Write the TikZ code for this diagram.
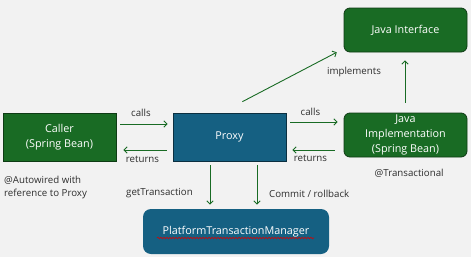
\documentclass[tikz,border=0pt]{standalone}
\usepackage{fontspec}
\setmainfont{Open Sans}
\usetikzlibrary{arrows.meta,decorations.pathmorphing}
\definecolor{bg}{HTML}{F2F2F2}
\definecolor{bgreen}{HTML}{196B24}
\definecolor{bgreenline}{HTML}{0E3B14}
\definecolor{bblue}{HTML}{156082}
\definecolor{bblueline}{HTML}{0B2F40}
\definecolor{lbl}{HTML}{2E2E2E}
\tikzset{
  greenbox/.style={draw=bgreenline, fill=bgreen, line width=0.8pt, text=white,
    font=\fontsize{10.8}{15}\selectfont, align=center, inner sep=0pt},
  bluebox/.style={draw=bblueline, fill=bblue, line width=0.8pt, text=white,
    font=\fontsize{10.8}{15}\selectfont, align=center, inner sep=0pt},
  link/.style={draw=bgreen, line width=0.9pt, -{Straight Barb[length=3.2pt,width=6.5pt]}},
  lab/.style={text=lbl, font=\fontsize{9.7}{13}\selectfont, inner sep=0pt},
}
\begin{document}
\begin{tikzpicture}[x=1pt,y=-1pt]
  \fill[bg] (0,0) rectangle (471,257);
  \useasboundingbox (0,0) rectangle (471,257);

  % boxes
  \node[greenbox, minimum width=113pt, minimum height=48pt] (caller) at (59.5,137) {Caller\\(Spring Bean)};
  \node[bluebox, minimum width=113pt, minimum height=48pt] (proxy) at (229.5,137) {Proxy};
  \node[greenbox, rounded corners=6pt, minimum width=123pt, minimum height=44pt] (iface) at (405.5,30) {Java Interface};
  \node[greenbox, rounded corners=6pt, minimum width=123pt, minimum height=44pt] (impl) at (405.5,135) {Java\\Implementation\\(Spring Bean)};
  \node[bluebox, draw=none, rounded corners=8pt, minimum width=186pt, minimum height=45pt] (ptm) at (236,231.5) {PlatformTransactionManager};
  \draw[red!85!black, line width=0.6pt, decorate, decoration={snake, amplitude=0.7pt, segment length=3pt}]
    ([xshift=-79pt,yshift=-6.5pt]ptm.center) -- ([xshift=78pt,yshift=-6.5pt]ptm.center);

  % caller <-> proxy
  \draw[link, shorten <=4pt, shorten >=5pt] ([yshift=13pt]caller.east) -- ([yshift=13pt]proxy.west);
  \draw[link, shorten <=6pt, shorten >=7pt] ([yshift=-13pt]proxy.west) -- ([yshift=-13pt]caller.east);
  \node[lab] (l1) at (141,112.5) {calls};
  \node[lab] (l2) at (142.5,159) {returns};

  % proxy <-> implementation
  \path ([yshift=15pt]proxy.east) coordinate (pc);
  \path ([yshift=-13pt]proxy.east) coordinate (pr);
  \draw[link, shorten <=4pt, shorten >=6pt] (pc) -- (pc -| impl.west);
  \draw[link, shorten <=9pt, shorten >=6pt] (pr -| impl.west) -- (pr);
  \node[lab] (l3) at (310.5,112) {calls};
  \node[lab] (l4) at (310.5,158.5) {returns};

  % implements
  \draw[link, shorten <=23.6pt, shorten >=7.7pt] ([xshift=-8pt]proxy.north) -- ([yshift=3.7pt]iface.south west);
  \node[lab] (l5) at (354,72) {implements};
  \draw[link, shorten <=10pt, shorten >=8pt] (impl.north -| 405,0) -- (iface.south -| 405,0);

  % proxy -> transaction manager
  \draw[link, shorten <=4pt, shorten >=4pt] ([xshift=-19.5pt]proxy.south) -- ([xshift=-19.5pt]proxy.south |- ptm.north);
  \draw[link, shorten <=4pt, shorten >=4pt] ([xshift=27.5pt]proxy.south) -- ([xshift=27.5pt]proxy.south |- ptm.north);
  \node[lab, anchor=west] (l6) at (126,193) {getTransaction};
  \node[lab, anchor=west] (l7) at (269,193.5) {Commit / rollback};

  % annotations
  \node[lab, anchor=west, align=left] (n1) at (4,187.5) {@Autowired with\\reference to Proxy};
  \node[lab, anchor=west] (n2) at (374.5,173) {@Transactional};
\end{tikzpicture}
\end{document}
